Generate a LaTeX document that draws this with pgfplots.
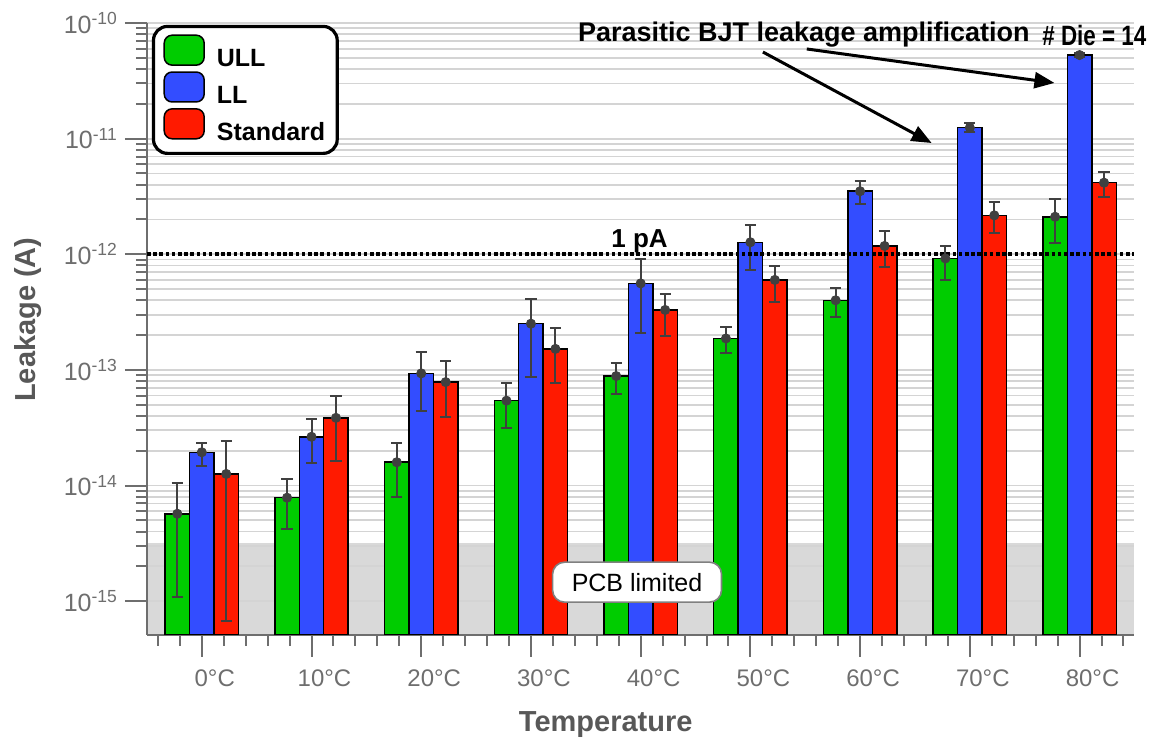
\documentclass[border=0pt]{standalone}
\usepackage{fontspec}
\setmainfont{Liberation Sans}
\usepackage{graphicx}
\usepackage{pgfplots}
\pgfplotsset{compat=1.18}
\usepackage{pgfplotstable}
\usetikzlibrary{arrows.meta}

\definecolor{ullgreen}{RGB}{0,204,0}
\definecolor{llblue}{RGB}{51,77,255}
\definecolor{stdred}{RGB}{255,26,0}
\definecolor{errgray}{RGB}{64,64,64}
\definecolor{labgray}{RGB}{88,88,88}
\definecolor{tickgray}{RGB}{110,110,110}
\definecolor{gridgray}{RGB}{212,212,212}
\definecolor{pcbgray}{RGB}{217,217,217}

% x = temperature index (0..8 -> 0..80 C), y = leakage (A), ep/em = error up/down
\pgfplotstableread{
x y ep em
0 5.7e-15 4.9e-15 4.62e-15
1 7.85e-15 3.65e-15 3.65e-15
2 1.59e-14 7.5e-15 8.0e-15
3 5.42e-14 2.28e-14 2.3e-14
4 8.85e-14 2.65e-14 2.65e-14
5 1.87e-13 5.0e-14 4.6e-14
6 4.0e-13 1.14e-13 1.13e-13
7 9.2e-13 2.7e-13 3.2e-13
8 2.11e-12 9.2e-13 8.7e-13
}\ULL
\pgfplotstableread{
x y ep em
0 1.94e-14 4.0e-15 4.6e-15
1 2.64e-14 1.12e-14 1.06e-14
2 9.33e-14 5.07e-14 4.93e-14
3 2.51e-13 1.62e-13 1.637e-13
4 5.6e-13 3.5e-13 3.5e-13
5 1.27e-12 5.2e-13 5.4e-13
6 3.51e-12 7.9e-13 8.0e-13
7 1.245e-11 1.15e-12 1.15e-12
8 5.28e-11 2.2e-12 1.8e-12
}\LL
\pgfplotstableread{
x y ep em
0 1.26e-14 1.17e-14 1.193e-14
1 3.85e-14 2.05e-14 2.22e-14
2 7.85e-14 4.05e-14 3.96e-14
3 1.52e-13 7.7e-14 7.5e-14
4 3.3e-13 1.24e-13 1.34e-13
5 6.0e-13 1.9e-13 2.1e-13
6 1.18e-12 4.0e-13 4.04e-13
7 2.17e-12 6.8e-13 6.3e-13
8 4.16e-12 9.9e-13 1.01e-12
}\STD

\pgfplotsset{
  barstyle/.style={ybar, bar width=0.223, draw=black, line width=0.75pt},
  errstyle/.style={only marks, mark=*, mark size=2.3pt, color=errgray, forget plot,
    error bars/.cd, y dir=both, y explicit,
    error bar style={line width=1pt, errgray},
    error mark options={rotate=90, errgray, line width=1pt, mark size=2.8pt}},
}

\begin{document}
\begin{tikzpicture}
\begin{axis}[
    scale only axis,
    width=494pt, height=306pt,
    set layers,
    clip=false,
    ymode=log,
    log origin y=infty,
    xmin=-0.5, xmax=8.5,
    ymin=5.13e-16, ymax=1e-10,
    axis lines*=left,
    axis line style={tickgray, line width=1pt},
    tick style={tickgray, line width=1pt},
    tick align=outside,
    major tick length=11pt,
    minor tick length=5.5pt,
    xtick={0,...,8},
    xticklabels={0°C,10°C,20°C,30°C,40°C,50°C,60°C,70°C,80°C},
    minor xtick={-0.4,-0.2,0.2,0.4,0.6,0.8,1.2,1.4,1.6,1.8,2.2,2.4,2.6,2.8,3.2,3.4,3.6,3.8,4.2,4.4,4.6,4.8,5.2,5.4,5.6,5.8,6.2,6.4,6.6,6.8,7.2,7.4,7.6,7.8,8.2,8.4},
    ytick={1e-15,1e-14,1e-13,1e-12,1e-11,1e-10},
    yticklabels={10\textsuperscript{-15},10\textsuperscript{-14},10\textsuperscript{-13},10\textsuperscript{-12},10\textsuperscript{-11},10\textsuperscript{-10}},
    xticklabel style={font=\fontsize{12}{14}\selectfont, text=tickgray, xshift=6.5pt, yshift=-3pt},
    yticklabel style={font=\fontsize{12.5}{14}\selectfont, text=tickgray},
    ymajorgrids, yminorgrids,
    major grid style={gridgray, line width=0.9pt},
    minor grid style={gridgray, line width=0.9pt},
    xlabel={Temperature},
    ylabel={Leakage (A)},
    every axis x label/.style={at={(axis description cs:0.4646,-0.147)}, anchor=center,
      font=\bfseries\fontsize{14.5}{17}\selectfont, text=labgray},
    every axis y label/.style={at={(axis description cs:-0.1204,0.515)}, anchor=center, rotate=90,
      font=\bfseries\fontsize{14.5}{17}\selectfont, text=labgray},
    legend cell align=left,
    legend style={at={(axis description cs:0.005,0.997)}, anchor=north west,
      draw=black, line width=1.6pt, rounded corners=7pt, fill=white,
      font=\bfseries\fontsize{12.5}{15}\selectfont,
      inner xsep=5pt, inner ysep=4pt, row sep=0pt,
      nodes={inner sep=1pt},
      /tikz/every odd column/.append style={column sep=5pt}},
    legend image code/.code={\fill[rounded corners=4pt] (0pt,-3pt) rectangle (20pt,12pt);},
]
% PCB limited band
\addplot[draw=none, fill=pcbgray, on layer=axis background, forget plot]
  coordinates {(-0.5,5.13e-16) (8.5,5.13e-16) (8.5,3.2e-15) (-0.5,3.2e-15)} -- cycle;

\addplot[barstyle, bar shift=-0.223, fill=ullgreen] table[x=x, y=y] {\ULL};
\addplot[barstyle, bar shift=0, fill=llblue] table[x=x, y=y] {\LL};
\addplot[barstyle, bar shift=0.223, fill=stdred] table[x=x, y=y] {\STD};
\legend{ULL, LL, Standard}

\addplot[errstyle] table[x expr=\thisrow{x}-0.223, y=y, y error plus=ep, y error minus=em] {\ULL};
\addplot[errstyle] table[x=x, y=y, y error plus=ep, y error minus=em] {\LL};
\addplot[errstyle] table[x expr=\thisrow{x}+0.223, y=y, y error plus=ep, y error minus=em] {\STD};

% 1 pA reference
\addplot[black, dash pattern=on 1.8pt off 1.3pt, line width=1.9pt, forget plot] coordinates {(-0.5,1e-12) (8.5,1e-12)};
\node[anchor=base, font=\bfseries\fontsize{13}{15}\selectfont] at (axis cs:3.99,1e-12) [yshift=3.5pt] {1 pA};

\node[draw=gray, fill=white, rounded corners=6pt, line width=0.8pt, minimum width=84.5pt, minimum height=20pt,
  font=\fontsize{12.5}{15}\selectfont] at (axis cs:3.967,1.46e-15) {PCB limited};

\node[anchor=base, font=\bfseries\fontsize{13.5}{16}\selectfont] at (axis cs:5.487,6.98e-11) {Parasitic BJT leakage amplification};
\node[anchor=base, font=\bfseries\fontsize{14}{16}\selectfont] at (axis cs:8.135,6.45e-11) {\scalebox{0.8}[1]{\# Die = 14}};
\draw[line width=1.5pt, -{Triangle[length=10pt,width=8pt]}] (axis cs:5.114,5.61e-11) -- (axis cs:6.652,9.16e-12);
\draw[line width=1.5pt, -{Triangle[length=10pt,width=8pt]}] (axis cs:5.514,5.96e-11) -- (axis cs:7.771,3.03e-11);
\end{axis}
\path (current axis.south west) ++(-73.5pt,-52.5pt) rectangle ++(576.5pt,370pt);
\end{tikzpicture}
\end{document}
